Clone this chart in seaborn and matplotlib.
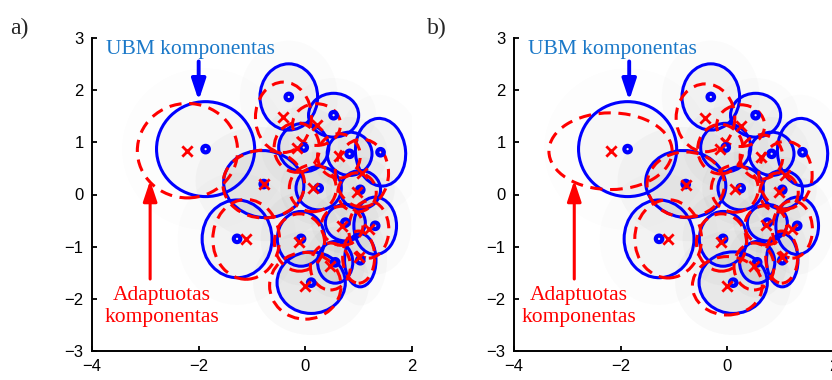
import matplotlib
matplotlib.use("Agg")
import matplotlib.pyplot as plt
import pandas as pd
import seaborn as sns
from matplotlib.patches import Ellipse

# UBM components (blue): centres, ellipse width/height, tilt, sample density
ubm_x = [-1.87, -0.31, 0.53, -0.03, 0.83, 1.41, -0.78, 0.25, 1.03, -1.28, -0.08, 0.75, 1.31, 0.56, 1.03, 0.11]
ubm_y = [0.87, 1.87, 1.52, 0.90, 0.78, 0.81, 0.20, 0.12, 0.09, -0.85, -0.85, -0.54, -0.60, -1.30, -1.26, -1.69]
ubm_w = [1.84, 1.08, 0.94, 0.94, 0.84, 0.94, 1.51, 0.85, 0.76, 1.31, 0.89, 0.75, 0.80, 0.66, 0.59, 1.28]
ubm_h = [1.82, 1.27, 0.84, 0.93, 0.83, 1.30, 1.28, 0.83, 0.74, 1.49, 1.05, 0.70, 1.10, 0.80, 1.02, 1.18]
ubm_ang = [0, 0, 0, 0, 0, 5, -10, 0, 0, 0, 0, 0, 0, 0, 0, 0]
density = [0.3, 0.6, 0.6, 0.8, 0.8, 0.5, 1.0, 1.0, 0.9, 0.5, 0.9, 1.0, 0.8, 1.0, 0.8, 1.0]

# adapted components (red), panel a
adapt_a_x = [-2.21, -0.41, 0.21, -0.16, 0.63, 1.06, -0.78, 0.14, 0.97, -1.11, -0.11, 0.69, 1.19, 0.47, 1.00, 0.00]
adapt_a_y = [0.84, 1.48, 1.34, 0.90, 0.74, 0.41, 0.20, 0.12, 0.04, -0.86, -0.92, -0.60, -0.67, -1.38, -1.20, -1.75]
adapt_a_w = [1.88, 1.05, 0.90, 0.85, 0.80, 1.00, 1.53, 0.88, 0.72, 1.25, 0.94, 0.78, 0.75, 0.75, 0.60, 1.34]
adapt_a_h = [1.81, 1.35, 0.80, 0.95, 0.85, 1.30, 1.30, 0.90, 0.75, 1.53, 1.10, 0.75, 1.10, 0.90, 1.00, 1.28]

# adapted components (red), panel b
adapt_b_x = [-2.19, -0.41, 0.25, -0.13, 0.64, 1.09, -0.78, 0.14, 0.97, -1.11, -0.11, 0.72, 1.22, 0.50, 1.02, 0.00]
adapt_b_y = [0.83, 1.47, 1.32, 0.87, 0.72, 0.37, 0.19, 0.11, 0.04, -0.85, -0.92, -0.59, -0.67, -1.38, -1.20, -1.75]
adapt_b_w = [2.31, 1.10, 0.90, 0.85, 0.80, 1.00, 1.45, 0.88, 0.72, 1.25, 0.94, 0.78, 0.75, 0.75, 0.60, 1.31]
adapt_b_h = [1.47, 1.30, 0.80, 0.95, 0.85, 1.30, 1.25, 0.90, 0.75, 1.50, 1.10, 0.75, 1.10, 0.90, 1.00, 1.12]

ticks = [-4, -2, 0, 2]
yticks = [-3, -2, -1, 0, 1, 2, 3]

BLUE = "#0000ff"
RED = "#ff0000"
TEXT_BLUE = "#1a78c8"

sns.set_style("ticks")
plt.rcParams["font.family"] = ["Liberation Sans", "DejaVu Sans"]
plt.rcParams["xtick.direction"] = "in"
plt.rcParams["ytick.direction"] = "in"


def draw_panel(ax, ax_x, ax_y, ax_w, ax_h, letter, blue_arrow_x, red_arrow_x, red_text_x):
    ubm = pd.DataFrame({"x": ubm_x, "y": ubm_y})
    adapt = pd.DataFrame({"x": ax_x, "y": ax_y})

    # sample cloud, shown as soft grey density
    for x, y, w, h, a, d in zip(ubm_x, ubm_y, ubm_w, ubm_h, ubm_ang, density):
        ax.add_patch(Ellipse((x, y), w * 1.7, h * 1.7, angle=a, facecolor="0.35",
                             edgecolor="none", alpha=0.035 * d, zorder=1))
        ax.add_patch(Ellipse((x, y), w, h, angle=a, facecolor="0.35",
                             edgecolor="none", alpha=0.10 * d, zorder=1))

    for x, y, w, h, a in zip(ubm_x, ubm_y, ubm_w, ubm_h, ubm_ang):
        ax.add_patch(Ellipse((x, y), w, h, angle=a, fill=False, edgecolor=BLUE, lw=2.2, zorder=3))
    for x, y, w, h in zip(ax_x, ax_y, ax_w, ax_h):
        ax.add_patch(Ellipse((x, y), w, h, fill=False, edgecolor=RED, lw=2.2,
                             linestyle=(0, (4, 2.5)), zorder=4))

    sns.scatterplot(data=ubm, x="x", y="y", ax=ax, marker="o", s=22, facecolor="none",
                    edgecolor=BLUE, linewidth=3.0, zorder=5)
    sns.scatterplot(data=adapt, x="x", y="y", ax=ax, marker="x", s=55, color=RED,
                    linewidth=2.0, zorder=6)

    ax.set_xlim(-4, 2)
    ax.set_ylim(-3, 3)
    ax.set_xticks(ticks)
    ax.set_yticks(yticks)
    ax.set_xticklabels([str(t).replace("-", "\u2212") for t in ticks])
    ax.set_yticklabels([str(t).replace("-", "\u2212") for t in yticks])
    ax.tick_params(labelsize=12, length=3.5, width=1.3, pad=6, colors="black")
    ax.set_xlabel("")
    ax.set_ylabel("")
    sns.despine(ax=ax)
    for s in ["left", "bottom"]:
        ax.spines[s].set_linewidth(1.4)
        ax.spines[s].set_color("black")

    serif = ["Liberation Serif", "DejaVu Serif"]
    ax.text(-2.15, 2.77, "UBM komponentas", color=TEXT_BLUE, fontsize=15.5,
            family=serif, ha="center", va="center")
    ax.annotate("", xy=(blue_arrow_x, 1.80), xytext=(blue_arrow_x, 2.55),
                arrowprops=dict(arrowstyle="-|>,head_length=0.9,head_width=0.3",
                                color=BLUE, lw=2.8, mutation_scale=14, shrinkA=0, shrinkB=0))
    ax.annotate("", xy=(red_arrow_x, 0.27), xytext=(red_arrow_x, -1.62),
                arrowprops=dict(arrowstyle="-|>,head_length=0.9,head_width=0.3",
                                color=RED, lw=2.2, mutation_scale=14, shrinkA=0, shrinkB=0))
    ax.text(red_text_x, -2.15, "Adaptuotas\nkomponentas", color=RED, fontsize=15.5,
            family=serif, ha="center", va="center", linespacing=1.2)
    ax.figure.text(letter[1], 0.925, letter[0], fontsize=17, family=serif,
                   ha="left", va="center")


fig = plt.figure(figsize=(8.32, 3.8), dpi=100)
ax_a = fig.add_axes([92 / 832, 29 / 380, 320 / 832, 313 / 380])
ax_b = fig.add_axes([514 / 832, 29 / 380, 320 / 832, 313 / 380])

draw_panel(ax_a, adapt_a_x, adapt_a_y, adapt_a_w, adapt_a_h, ("a)", 10 / 832), -2.0, -2.91, -2.69)
draw_panel(ax_b, adapt_b_x, adapt_b_y, adapt_b_w, adapt_b_h, ("b)", 427 / 832), -1.84, -2.87, -2.78)

fig.savefig("out.png", dpi=100)
